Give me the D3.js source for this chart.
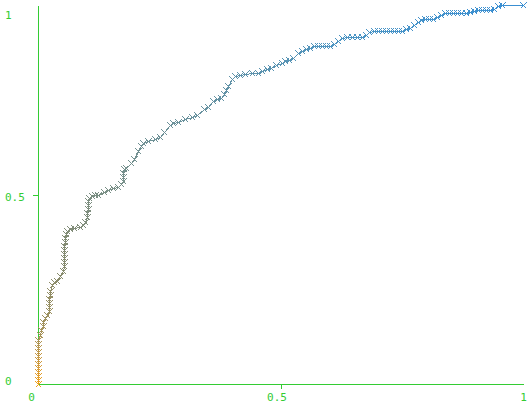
<!DOCTYPE html>
<meta charset="utf-8">
<script src="https://d3js.org/d3.v7.min.js"></script>
<style>
  body { margin: 0; background: #fff; }
  text { font-family: "DejaVu Sans Mono", monospace; font-size: 11px; }
</style>
<svg id="chart" width="530" height="420"></svg>
<script>

// false positive rate / true positive rate
var fpr = [0,0,0,0,0,0,0,0,0,0,0,0,
  0.004,0.006,0.010,0.010,0.014,0.019,0.023,0.023,0.023,0.023,0.025,0.025,
  0.029,0.033,0.039,0.045,0.052,0.054,0.054,0.054,0.054,0.054,0.054,0.056,
  0.056,0.058,0.060,0.066,0.074,0.087,0.093,0.097,0.101,0.101,0.103,0.103,
  0.103,0.105,0.111,0.118,0.124,0.136,0.144,0.155,0.165,0.171,0.175,0.175,
  0.175,0.177,0.181,0.192,0.198,0.206,0.212,0.217,0.227,0.241,0.252,0.260,
  0.272,0.278,0.289,0.303,0.318,0.328,0.342,0.351,0.361,0.369,0.377,0.384,
  0.388,0.392,0.400,0.406,0.417,0.427,0.441,0.454,0.462,0.472,0.480,0.491,
  0.503,0.509,0.518,0.526,0.536,0.544,0.553,0.561,0.569,0.577,0.586,0.594,
  0.602,0.610,0.619,0.627,0.637,0.647,0.658,0.668,0.676,0.682,0.693,0.701,
  0.709,0.718,0.726,0.734,0.742,0.751,0.759,0.767,0.775,0.784,0.790,0.798,
  0.806,0.814,0.823,0.831,0.839,0.847,0.856,0.864,0.872,0.882,0.891,0.899,
  0.907,0.915,0.924,0.932,0.940,0.948,0.957,1];

var tpr = [0,0.011,0.021,0.032,0.042,0.053,0.063,0.074,0.084,0.095,0.106,0.116,
  0.129,0.142,0.153,0.164,0.174,0.182,0.193,0.203,0.214,0.224,0.235,0.245,
  0.261,0.269,0.272,0.285,0.298,0.311,0.322,0.332,0.343,0.354,0.364,0.375,
  0.385,0.396,0.404,0.409,0.412,0.414,0.420,0.427,0.441,0.451,0.462,0.472,
  0.483,0.491,0.496,0.499,0.499,0.507,0.512,0.517,0.520,0.528,0.536,0.546,
  0.557,0.567,0.570,0.583,0.594,0.615,0.628,0.636,0.641,0.646,0.652,0.665,
  0.683,0.689,0.691,0.699,0.704,0.710,0.726,0.731,0.747,0.752,0.755,0.765,
  0.776,0.786,0.805,0.813,0.815,0.818,0.821,0.821,0.826,0.831,0.834,0.842,
  0.847,0.852,0.855,0.860,0.873,0.879,0.884,0.887,0.892,0.892,0.892,0.892,
  0.892,0.897,0.905,0.913,0.916,0.916,0.916,0.916,0.921,0.929,0.931,0.931,
  0.931,0.931,0.931,0.931,0.931,0.931,0.937,0.939,0.947,0.955,0.960,0.963,
  0.963,0.963,0.968,0.974,0.979,0.979,0.979,0.979,0.979,0.979,0.982,0.984,
  0.987,0.987,0.987,0.987,0.989,0.997,1,1];

var tickValues = [0, 0.5, 1];
var tickLabels = ["0", "0.5", "1"];

var svg = d3.select("#chart");
var axisColor = "#33cc33";

var x = d3.scaleLinear().domain([0, 1]).range([38, 523]);
var y = d3.scaleLinear().domain([0, 1]).range([384, 5]);

var points = fpr.map(function(d, i) { return [d, tpr[i]]; });
function px(v) { return Math.round(x(v)) + 0.5; }
function py(v) { return Math.round(y(v)) + 0.5; }

// marker colour runs from orange at the first threshold to blue at the last
var color = d3.scaleLinear()
    .domain([0, 4, 12, 28, 60, 110, points.length - 1])
    .range(["#f0a018", "#d89c38", "#a8945a", "#868a6c", "#76908c", "#4c94c2", "#3a8fd2"]);

// axes (drawn first, markers sit on top)
var xAxis = svg.append("g")
    .attr("transform", "translate(0,384)")
    .call(d3.axisBottom(x).tickValues(tickValues).tickSize(5).tickSizeOuter(0)
      .tickFormat(function(d, i) { return tickLabels[i]; }));

var yAxis = svg.append("g")
    .attr("transform", "translate(38,0)")
    .call(d3.axisLeft(y).tickValues(tickValues).tickSize(5).tickSizeOuter(0)
      .tickFormat(function(d, i) { return tickLabels[i]; }));

[xAxis, yAxis].forEach(function(g) {
  g.select(".domain").attr("stroke", axisColor).style("shape-rendering", "crispEdges");
  g.selectAll(".tick line")
    .attr("stroke", axisColor)
    .style("shape-rendering", "crispEdges")
    .style("display", function(d) { return d === 0.5 ? null : "none"; });
  g.selectAll(".tick text")
    .attr("fill", axisColor)
    .style("font-family", "'DejaVu Sans Mono', monospace")
    .style("font-size", "11px");
});

var xShift = [-7, -4, 0];
xAxis.selectAll(".tick text")
    .attr("dx", function(d, i) { return xShift[i]; })
    .attr("y", 9);

var yShift = [-4, 1.5, 9];
yAxis.selectAll(".tick text")
    .attr("text-anchor", "start")
    .attr("x", -33)
    .attr("dy", function(d, i) { return (yShift[i] + 4) + "px"; });

// line between points
svg.append("g")
  .selectAll("line")
  .data(points.slice(1))
  .enter().append("line")
    .attr("x1", function(d, i) { return px(points[i][0]); })
    .attr("y1", function(d, i) { return py(points[i][1]); })
    .attr("x2", function(d) { return px(d[0]); })
    .attr("y2", function(d) { return py(d[1]); })
    .style("stroke", function(d, i) { return color(i + 1); })
    .style("stroke-width", 1)
    .style("shape-rendering", "crispEdges");

// x markers
var s = 3;
svg.append("g")
  .selectAll("path")
  .data(points)
  .enter().append("path")
    .attr("transform", function(d) {
      return "translate(" + px(d[0]) + "," + py(d[1]) + ")";
    })
    .attr("d", "M" + -s + "," + -s + "L" + s + "," + s + "M" + -s + "," + s + "L" + s + "," + -s)
    .style("fill", "none")
    .style("stroke", function(d, i) { return color(i); })
    .style("stroke-width", 1)
    .style("shape-rendering", "crispEdges");

</script>
